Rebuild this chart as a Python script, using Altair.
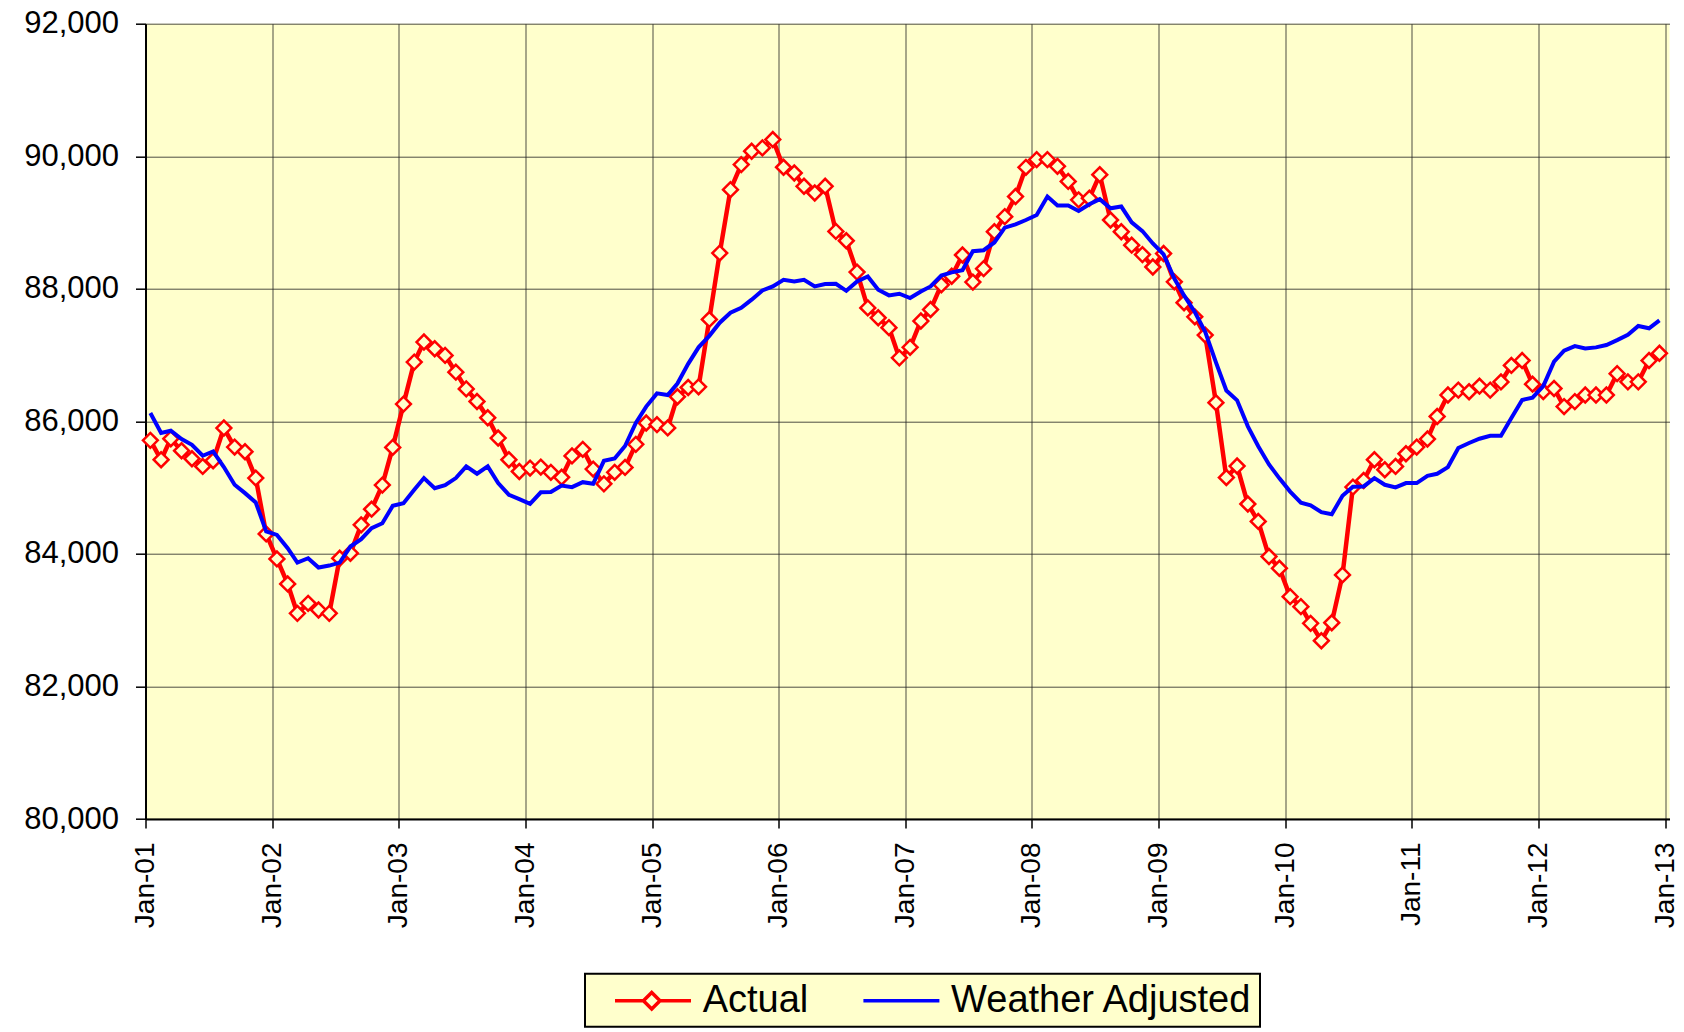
import altair as alt
import pandas as pd

series_names = ["Actual", "Weather Adjusted"]
series_colors = ["#FF0000", "#0000FF"]

actual = [
    85713, 85421, 85738, 85557, 85436, 85320, 85406, 85899, 85612, 85542, 85144, 84302,
    83924, 83547, 83103, 83254, 83154, 83103, 83934, 84010, 84438, 84675, 85038, 85607,
    86260, 86894, 87197, 87096, 86995, 86742, 86490, 86300, 86055, 85748, 85421, 85244,
    85295, 85310, 85231, 85156, 85479, 85578, 85280, 85057, 85231, 85305, 85653, 85975,
    85950, 85901, 86372, 86511, 86521, 87538, 88539, 89496, 89874, 90076, 90126, 90252,
    89834, 89748, 89547, 89446, 89547, 88866, 88725, 88252, 87712, 87563, 87414, 86958,
    87117, 87514, 87687, 88060, 88190, 88510, 88101, 88304, 88861, 89089, 89392, 89833,
    89949, 89949, 89848, 89620, 89342, 89367, 89722, 89038, 88861, 88658, 88516, 88329,
    88532, 88105, 87790, 87577, 87302, 86282, 85152, 85326, 84753, 84490, 83960, 83783,
    83355, 83204, 82952, 82690, 82962, 83683, 85008, 85108, 85421, 85270, 85320, 85511,
    85612, 85733, 86074, 86397, 86471, 86447, 86531, 86471, 86595, 86844, 86918, 86561,
    86450, 86496, 86223, 86298, 86397, 86397, 86397, 86720, 86596, 86596, 86918, 87027,
]

weather_adjusted = [
    86126, 85824, 85859, 85733, 85647, 85481, 85547, 85310, 85043, 84917, 84776, 84338,
    84287, 84086, 83869, 83935, 83794, 83824, 83869, 84111, 84222, 84388, 84463, 84725,
    84766, 84967, 85144, 84992, 85038, 85144, 85320, 85209, 85320, 85068, 84892, 84826,
    84756, 84930, 84933, 85032, 85007, 85082, 85057, 85404, 85439, 85628, 85975, 86223,
    86422, 86397, 86571, 86868, 87117, 87290, 87489, 87638, 87712, 87836, 87975, 88035,
    88136, 88111, 88136, 88035, 88071, 88076, 87970, 88111, 88186, 87985, 87901, 87926,
    87861, 87960, 88035, 88200, 88248, 88282, 88567, 88582, 88699, 88922, 88972, 89038,
    89114, 89392, 89256, 89256, 89175, 89276, 89352, 89215, 89241, 89003, 88871, 88684,
    88520, 88155, 87900, 87650, 87350, 86890, 86465, 86317, 85924, 85625, 85350, 85140,
    84940, 84773, 84733, 84630, 84598, 84878, 85015, 85018, 85144, 85043, 85003, 85068,
    85068, 85179, 85209, 85310, 85597, 85673, 85738, 85783, 85783, 86050, 86323, 86357,
    86531, 86900, 87067, 87136, 87101, 87116, 87151, 87225, 87305, 87439, 87404, 87523,
]

# mid-month positions, Jan-2001 .. Dec-2012
dates = [f"{2001 + i // 12}-{i % 12 + 1:02d}-15T00:00:00" for i in range(len(actual))]
tick_years = list(range(2001, 2014))
y_ticks = [80000, 82000, 84000, 86000, 88000, 90000, 92000]

rows = []
for d, a, w in zip(dates, actual, weather_adjusted):
    rows.append({"date": d, "series": "Actual", "value": a})
    rows.append({"date": d, "series": "Weather Adjusted", "value": w})
df = pd.DataFrame(rows)

FONT = "Liberation Sans"

x_enc = alt.X(
    "date:T",
    scale=alt.Scale(
        domain=[alt.DateTime(year=2001, month=1, date=1),
                alt.DateTime(year=2013, month=1, date=13)]
    ),
    axis=alt.Axis(
        values=[alt.DateTime(year=y, month=1, date=1) for y in tick_years],
        format="%b-%y",
        title=None,
        labelAngle=270,
        labelFont=FONT,
        labelFontSize=28,
        labelColor="#000000",
        labelPadding=14,
        tickSize=9,
        tickColor="#000000",
        tickWidth=1.5,
        domainColor="#000000",
        domainWidth=2,
        grid=True,
        gridColor="#222222",
        gridOpacity=0.8,
        gridWidth=1,
        labelOverlap=False,
    ),
)

y_enc = alt.Y(
    "value:Q",
    scale=alt.Scale(domain=[80000, 92000], nice=False, zero=False),
    axis=alt.Axis(
        values=y_ticks,
        format=",.0f",
        title=None,
        labelFont=FONT,
        labelFontSize=31,
        labelColor="#000000",
        labelPadding=17,
        tickSize=10,
        tickColor="#000000",
        tickWidth=1.5,
        domainColor="#000000",
        domainWidth=2,
        grid=True,
        gridColor="#222222",
        gridOpacity=0.8,
        gridWidth=1,
        labelOverlap=False,
    ),
)

RED_PATH = ("M0.167,0L1.745,0M2.667,0L4.389,0"
            "M1.745,0L2.206,-0.461L2.667,0L2.206,0.461Z")
BLUE_PATH = "M0.167,0L4.389,0"

legend = alt.Legend(
    title=None,
    orient="none",
    legendX=439.5,
    legendY=950,
    direction="horizontal",
    fillColor="#FFFFCC",
    strokeColor="#000000",
    padding=7,
    labelFont=FONT,
    labelFontSize=38,
    labelColor="#000000",
    labelOffset=70.7,
    labelLimit=500,
    columnPadding=31.4,
    labelExpr="datum.label === 'Weather Adjusted' ? datum.label + '\u00a0\u00a0' : datum.label",
    symbolSize=1296,
    symbolStrokeWidth=3.5,
    symbolFillColor="transparent",
    symbolOpacity=1,
    symbolType=alt.ExprRef(
        expr=f"datum.value === 'Actual' ? '{RED_PATH}' : '{BLUE_PATH}'"
    ),
)

color_enc = alt.Color(
    "series:N",
    scale=alt.Scale(domain=series_names, range=series_colors),
    legend=legend,
)

base = alt.Chart(df)

red_line = base.transform_filter("datum.series === 'Actual'").mark_line(
    strokeWidth=4.5
).encode(x=x_enc, y=y_enc, color=color_enc)

red_pts = base.transform_filter("datum.series === 'Actual'").mark_point(
    shape="diamond", size=220, filled=True, fill="#FFFFCC",
    stroke="#FF0000", strokeWidth=2.5, opacity=1
).encode(x=x_enc, y=y_enc)

blue_line = base.transform_filter("datum.series === 'Weather Adjusted'").mark_line(
    strokeWidth=4
).encode(x=x_enc, y=y_enc, color=color_enc)

chart = alt.layer(red_line, red_pts, blue_line).properties(
    width=1524,
    height=795.3,
    autosize=alt.AutoSizeParams(type="none"),
    padding={"left": 137.5, "top": 15.7, "right": 6.5, "bottom": 209},
    background="#FFFFFF",
).configure_view(
    fill="#FFFFCC",
    strokeWidth=0,
).configure_legend(
    strokeWidth=2,
)

chart.save("out.html", embed_options={"renderer": "svg", "actions": False})
